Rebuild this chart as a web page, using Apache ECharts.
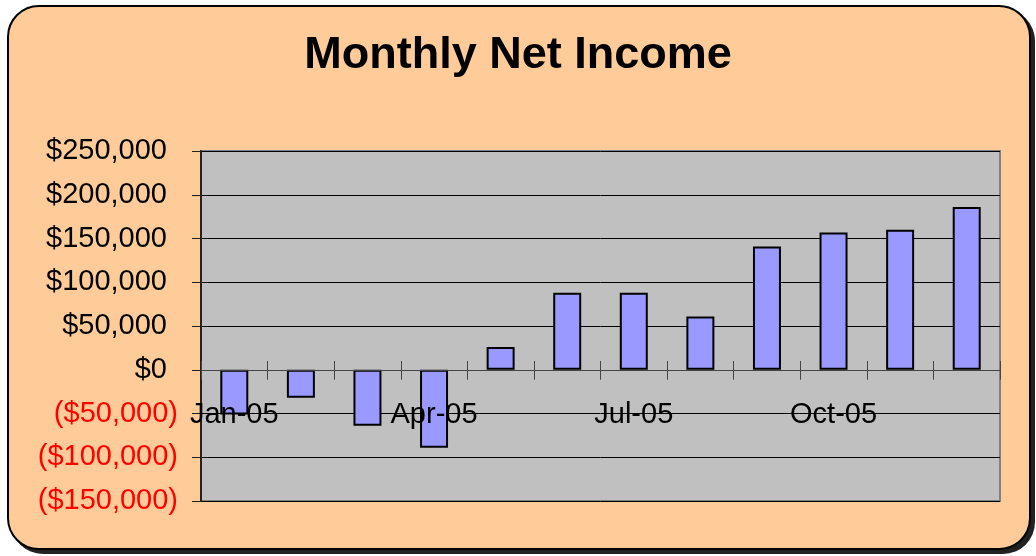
<!doctype html>
<html>
<head>
	<meta charset="utf-8">
	<title>Monthly Net Income</title>
	<style>
		body { margin:0; background:#fff; }
		#frame { position:absolute; left:7px; top:5px; width:1020px; height:541px; background:#FFCC99; border:2px solid #000; border-radius:32px; box-shadow:4px 4px 0 #222; }
		#main { position:absolute; left:0; top:0; width:1036px; height:556px; }
	</style>
</head>
<body>
<div id="frame"></div>
<div id="main"></div>
<script src="https://cdn.jsdelivr.net/npm/echarts@6/dist/echarts.min.js"></script>
<script>
	// data
	var months = ['Jan-05','Feb-05','Mar-05','Apr-05','May-05','Jun-05','Jul-05','Aug-05','Sep-05','Oct-05','Nov-05','Dec-05']
	var netIncome = [-51000, -32000, -64000, -89000, 26000, 88000, 88000, 61000, 141000, 157000, 160000, 186000]

	function money(v){
		return '$' + Math.abs(v).toString().replace(/\B(?=(\d{3})+(?!\d))/g, ',')
	}

	var myChart = echarts.init(document.getElementById('main'));
	var option = {
		backgroundColor: 'transparent',
		title: {
			text: 'Monthly Net Income',
			left: 'center',
			top: 28,
			textStyle: { fontFamily:'Liberation Sans', fontSize:45, fontWeight:'bold', color:'#000' }
		},
		grid: {
			left: 201, right: 36, top: 151, bottom: 55,
			outerBoundsMode: 'none',
			show: true, backgroundColor: '#C0C0C0', borderColor: '#808080', borderWidth: 2
		},
		xAxis: [{
			type: 'category',
			data: months,
			z: 10,
			axisLine: { onZero: true, lineStyle: { color:'#444', width:1 } },
			axisTick: { show: true, interval: 0, length: 10, lineStyle: { color:'#444' } },
			// labels sit just under the zero line, drawn over the bars
			axisLabel: { interval: 2, margin: -101, fontFamily:'Liberation Sans', fontSize:29, color:'#000' },
			splitLine: { show: false }
		}, {
			// upper half of the crossing ticks on the zero line
			type: 'category',
			data: months,
			position: 'bottom',
			offset: -131,
			z: 10,
			axisLine: { show: false, onZero: false },
			axisTick: { show: true, inside: true, interval: 0, length: 9, lineStyle: { color:'#444' } },
			axisLabel: { show: false },
			splitLine: { show: false }
		}],
		yAxis: {
			type: 'value',
			min: -150000, max: 250000, interval: 50000,
			axisLine: { show: true, lineStyle: { color:'#222', width:2 } },
			axisTick: { show: true, length: 9, lineStyle: { color:'#222' } },
			splitLine: { lineStyle: { color:'#000', width:1 } },
			axisLabel: {
				margin: 23,
				formatter: function(v){
					if (v < 0) return '{n|(' + money(v) + ')}'
					return '{p|' + money(v) + '}{g| }'
				},
				rich: {
					n: { fontFamily:'Liberation Sans', fontSize:29, color:'#FF0000' },
					p: { fontFamily:'Liberation Sans', fontSize:29, color:'#000' },
					g: { fontSize:29, width:11 }
				}
			}
		},
		series: [{
			name: 'Net Income',
			type: 'bar',
			data: netIncome,
			barWidth: 28,
			itemStyle: { color:'#9999FF', borderColor:'#000', borderWidth:2 }
		}]
	};
	myChart.setOption(option);
</script>
</body>
</html>
